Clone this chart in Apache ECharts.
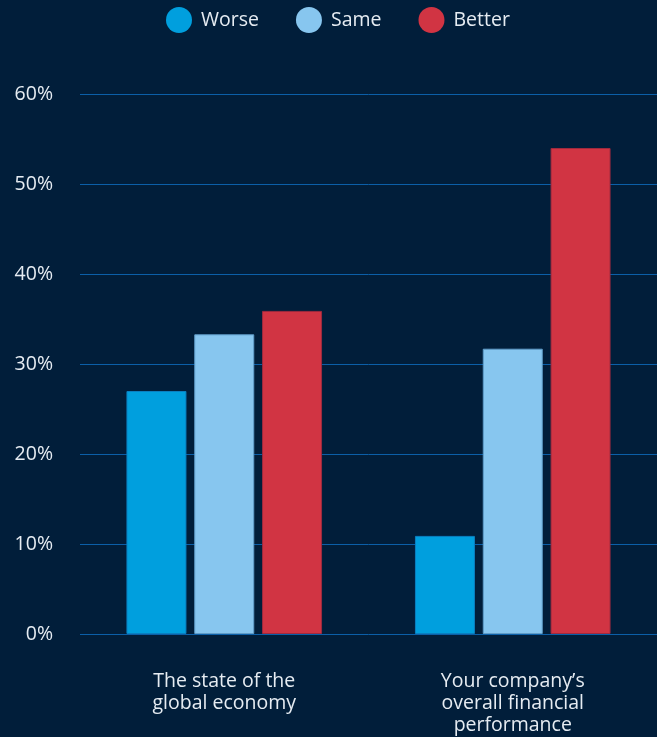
<!DOCTYPE html>
<html>
<head>
<meta charset="utf-8">
<style>
  html, body { margin: 0; padding: 0; background: #011e3a; }
  #chart { width: 657px; height: 737px; }
</style>
<script src="https://cdn.jsdelivr.net/npm/echarts@6/dist/echarts.min.js"></script>
</head>
<body>
<div id="chart"></div>
<script>
// Survey outlook: share of respondents by expectation
const categories = ['The state of the\nglobal economy', "Your company’s\noverall financial\nperformance"];
const seriesNames = ['Worse', 'Same', 'Better'];
const worse = [27, 10.9];
const same = [33.3, 31.7];
const better = [35.9, 54];
const yTicks = [0, 10, 20, 30, 40, 50, 60];

const colors = ['#009fde', '#87c6ef', '#d13443'];
const borders = ['#0a7fc0', '#5f9cc8', '#9e2a3e'];
const values = [worse, same, better];

const chart = echarts.init(document.getElementById('chart'));
const font = '"Open Sans", Lato, sans-serif';
const textColor = '#e6ecf2';

chart.setOption({
  backgroundColor: '#011e3a',
  textStyle: { fontFamily: font },
  legend: {
    top: 2,
    left: 161,
    itemWidth: 26,
    itemHeight: 26,
    itemGap: 37,
    icon: 'circle',
    itemStyle: { borderWidth: 0 },
    textStyle: { color: textColor, fontSize: 19.5, fontFamily: font, padding: [0, 0, 0, 4] },
    data: seriesNames
  },
  grid: { left: 80, right: -1, top: 94, bottom: 103, containLabel: false },
  xAxis: {
    type: 'category',
    data: categories,
    axisLine: { show: false },
    axisTick: { show: false },
    axisLabel: {
      color: textColor,
      fontSize: 19.5,
      lineHeight: 22,
      margin: 36,
      fontFamily: font
    }
  },
  yAxis: {
    type: 'value',
    min: yTicks[0],
    max: yTicks[yTicks.length - 1],
    interval: 10,
    axisLine: { show: false },
    axisTick: { show: false },
    splitLine: { lineStyle: { color: '#0b5fa8', width: 1 } },
    axisLabel: {
      color: textColor,
      fontSize: 19.5,
      margin: 27,
      fontFamily: font,
      formatter: v => v + '%'
    }
  },
  series: seriesNames.map((name, i) => ({
    name,
    type: 'bar',
    data: values[i],
    barWidth: 60,
    barGap: '13%',
    itemStyle: { color: colors[i], borderColor: borders[i], borderWidth: 1 },
    emphasis: { disabled: true }
  }))
});
</script>
</body>
</html>
